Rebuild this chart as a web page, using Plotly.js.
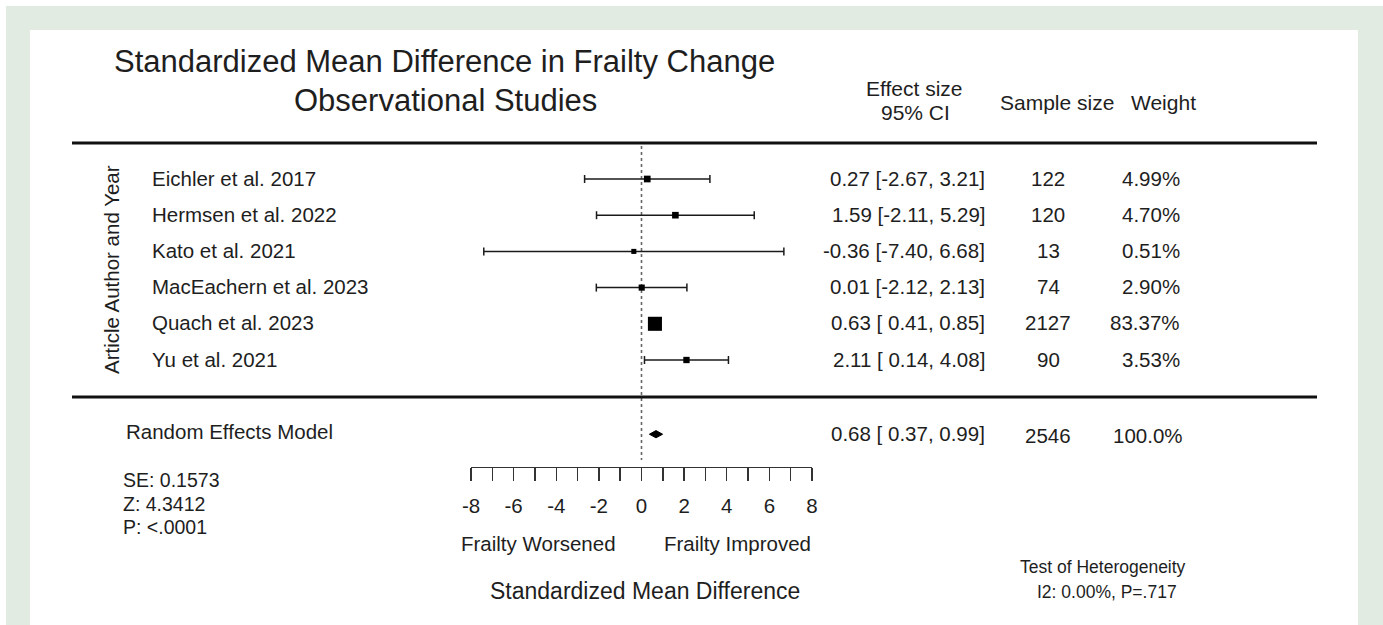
<!DOCTYPE html>
<html><head><meta charset="utf-8">
<script src="https://cdn.plot.ly/plotly-3.0.1.min.js"></script>
<style>html,body{margin:0;padding:0;background:#fff;} #chart{width:1383px;height:625px;}</style>
</head><body><div id="chart"></div>
<script>
// ---- data ----
const studies = ["Eichler et al. 2017","Hermsen et al. 2022","Kato et al. 2021","MacEachern et al. 2023","Quach et al. 2023","Yu et al. 2021"];
const effect = [0.27, 1.59, -0.36, 0.01, 0.63, 2.11];
const ciLow = [-2.67, -2.11, -7.40, -2.12, 0.41, 0.14];
const ciHigh = [3.21, 5.29, 6.68, 2.13, 0.85, 4.08];
const sampleSize = [122, 120, 13, 74, 2127, 90];
const weightPct = [4.99, 4.70, 0.51, 2.90, 83.37, 3.53];
const pooledLabel = "Random Effects Model";
const pooledEffect = 0.68, pooledLow = 0.37, pooledHigh = 0.99;
const pooledN = 2546;
const pooledWeight = 100.0;
const statLines = ["SE: 0.1573", "Z: 4.3412", "P: <.0001"];
const heterogeneity = ["Test of Heterogeneity", "I2: 0.00%, P=.717"];
const titleLines = ["Standardized Mean Difference in Frailty Change", "Observational Studies"];
const xTickLabels = ["-8", "-6", "-4", "-2", "0", "2", "4", "6", "8"];
const xRange = [-8, 8];

// ---- layout helpers ----
const W = 1383, H = 625;
const px = p => p / W;
const py = p => 1 - p / H;
const ROW0 = 179, ROWH = 36.2;
const pooledRow = 7.05;
const FONT = "Liberation Sans, Arial, Helvetica, sans-serif";
const TXT = "#1e1e1e";
const nb = s => s.replace(/ /g, "\u00a0");
const fmtCI = (e, l, h) => nb(e.toFixed(2) + " [" + (l < 0 ? "" : " ") + l.toFixed(2) + ", " + h.toFixed(2) + "]");

const rows = studies.map((_, i) => i);
const majorTicks = xTickLabels.map(Number);
const minorTicks = [];
for (let v = xRange[0]; v <= xRange[1]; v += 1) minorTicks.push(v);

const annotations = [];
function ann(text, x, y, o = {}) {
  annotations.push(Object.assign({
    text: text, x: x, y: y, xref: "paper", yref: "paper", showarrow: false,
    xanchor: "center", yanchor: "middle", font: {family: FONT, size: 20.5, color: TXT}
  }, o));
}

// titles
ann(titleLines[0], px(444), py(62), {font: {family: FONT, size: 31, color: TXT}});
ann(titleLines[1], px(445), py(100), {font: {family: FONT, size: 31, color: TXT}});
// headers
ann("Effect size", px(914), py(88), {font: {family: FONT, size: 21, color: TXT}});
ann("95% CI", px(915), py(113), {font: {family: FONT, size: 21, color: TXT}});
ann("Sample size", px(998), py(102), {xanchor: "left", font: {family: FONT, size: 21, color: TXT}});
ann("Weight", px(1129), py(102), {xanchor: "left", font: {family: FONT, size: 21, color: TXT}});
// y title
ann("Article Author and Year", px(112), py(270), {textangle: -90});

// study rows
rows.forEach(i => {
  ann(studies[i], px(150), i, {yref: "y", xanchor: "left", yshift: 1});
  ann(fmtCI(effect[i], ciLow[i], ciHigh[i]), px(987), i, {yref: "y", xanchor: "right", yshift: 1});
  ann(String(sampleSize[i]), px(1048), i, {yref: "y", yshift: 1});
  ann(weightPct[i].toFixed(2) + "%", px(1182), i, {yref: "y", xanchor: "right", yshift: 1});
});
// pooled row
ann(pooledLabel, px(124), pooledRow, {yref: "y", xanchor: "left", yshift: 3});
ann(fmtCI(pooledEffect, pooledLow, pooledHigh), px(987), pooledRow, {yref: "y", xanchor: "right", yshift: 1});
ann(String(pooledN), px(1048), pooledRow, {yref: "y", yshift: -1});
ann(pooledWeight.toFixed(1) + "%", px(1185), pooledRow, {yref: "y", xanchor: "right", yshift: -1});
// stats
statLines.forEach((s, k) => ann(s, px(121), py(480 + 23.5 * k), {xanchor: "left", font: {family: FONT, size: 19.5, color: TXT}}));
// axis captions
ann("Frailty Worsened", px(538), py(543));
ann("Frailty Improved", px(737), py(543));
ann("Standardized Mean Difference", px(645), py(591), {font: {family: FONT, size: 23, color: TXT}});
// heterogeneity
ann(heterogeneity[0], px(1103), py(567), {font: {family: FONT, size: 17.5, color: TXT}});
ann(heterogeneity[1], px(1107), py(592), {font: {family: FONT, size: 17.5, color: TXT}});

const shapes = [
  {type: "rect", xref: "paper", yref: "paper", x0: px(6), x1: 1, y0: 0, y1: py(6), fillcolor: "#e2ebe2", line: {width: 0}, layer: "below"},
  {type: "rect", xref: "paper", yref: "paper", x0: px(30), x1: px(1358), y0: 0, y1: py(30), fillcolor: "#ffffff", line: {width: 0}, layer: "below"},
  {type: "line", xref: "paper", yref: "paper", x0: px(72), x1: px(1317), y0: py(143), y1: py(143), line: {color: "#111", width: 3}},
  {type: "line", xref: "paper", yref: "paper", x0: px(72), x1: px(1317), y0: py(397), y1: py(397), line: {color: "#111", width: 3}},
  {type: "line", xref: "x", yref: "paper", x0: 0, x1: 0, y0: py(146), y1: py(460), line: {color: "#666", width: 1.6, dash: "dot"}, layer: "below"}
];

// CI whiskers with end caps, built from the CI arrays (drawn first, markers on top)
const capH = 0.11;
const wx = [], wy = [];
rows.forEach(i => {
  wx.push(ciLow[i], ciHigh[i], null, ciLow[i], ciLow[i], null, ciHigh[i], ciHigh[i], null);
  wy.push(i, i, null, i - capH, i + capH, null, i - capH, i + capH, null);
});
const ciTrace = {
  type: "scatter", mode: "lines", x: wx, y: wy, connectgaps: false,
  line: {color: "#1a1a1a", width: 1.5}, hoverinfo: "skip", showlegend: false
};
const studyTrace = {
  type: "scatter", mode: "markers", x: effect, y: rows,
  marker: {symbol: "square", color: "#000", opacity: 1, size: weightPct.map(w => 4.3 + 1.07 * Math.sqrt(w)), line: {width: 0}},
  hoverinfo: "skip", showlegend: false
};
const dh = 0.1;
const diamondTrace = {
  type: "scatter", mode: "lines", fill: "toself", fillcolor: "#000",
  x: [pooledLow, pooledEffect, pooledHigh, pooledEffect, pooledLow],
  y: [pooledRow, pooledRow - dh, pooledRow, pooledRow + dh, pooledRow],
  line: {color: "#000", width: 1}, hoverinfo: "skip", showlegend: false
};

const layout = {
  width: W, height: H, margin: {l: 0, r: 0, t: 0, b: 0, pad: 0},
  paper_bgcolor: "#ffffff", plot_bgcolor: "rgba(0,0,0,0)",
  showlegend: false,
  xaxis: {domain: [px(471), px(812)], range: xRange, anchor: "free", position: py(467),
    showline: true, linecolor: "#333", linewidth: 1.4,
    ticks: "outside", ticklen: 13, tickwidth: 1.4, tickcolor: "#333",
    tickmode: "array", tickvals: majorTicks, ticktext: xTickLabels,
    minor: {tickmode: "array", tickvals: minorTicks, ticks: "outside", ticklen: 13, tickwidth: 1.4, tickcolor: "#333"},
    tickfont: {family: FONT, size: 20.5, color: TXT}, ticklabelstandoff: 7,
    showgrid: false, zeroline: false, fixedrange: true},
  yaxis: {domain: [0, 1], range: [(H - ROW0) / ROWH, -ROW0 / ROWH], visible: false,
    showgrid: false, zeroline: false, fixedrange: true},
  shapes: shapes, annotations: annotations
};

Plotly.newPlot("chart", [ciTrace, studyTrace, diamondTrace], layout, {displayModeBar: false, staticPlot: true});
</script>
</body></html>
